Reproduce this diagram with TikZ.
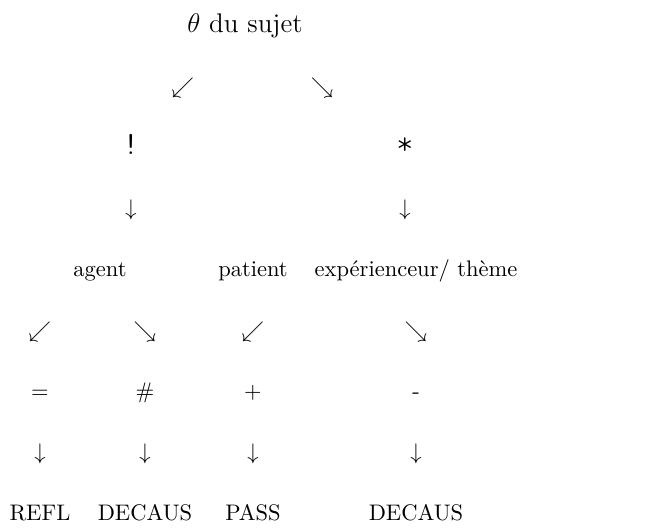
\documentclass[tikz,border=0pt]{standalone}
\usepackage{tikz}

\begin{document}
\begin{tikzpicture}[x=0.4444pt,y=-0.4444pt]
    % --- Dimensions (layout units, y grows downwards) ---
    \def\TotalW{664}      % Total width
    \def\TotalH{528}      % Total height
    \def\TopY{33}         % baseline of the first row
    \def\RowH{60.9}       % distance between two rows

    % --- Columns ---
    \def\ColRoot{245}     % theta du sujet
    \def\ColLeft{183}     % first left branch
    \def\ColRight{322}    % first right branch
    \def\ColBang{131}     % "!" column
    \def\ColStar{405}     % "*" column
    \def\ColAgent{100}
    \def\ColA{40}         % REFL
    \def\ColB{145}        % DECAUS (agent)
    \def\ColC{253}        % PASS
    \def\ColD{416}        % DECAUS (experienceur)

    % --- Derived row baselines ---
    \pgfmathsetmacro{\RowI}{\TopY}
    \pgfmathsetmacro{\RowII}{\TopY+\RowH}
    \pgfmathsetmacro{\RowIII}{\TopY+2*\RowH}
    \pgfmathsetmacro{\RowIV}{\TopY+3*\RowH}
    \pgfmathsetmacro{\RowV}{\TopY+4*\RowH}
    \pgfmathsetmacro{\RowVI}{\TopY+5*\RowH}
    \pgfmathsetmacro{\RowVII}{\TopY+6*\RowH}
    \pgfmathsetmacro{\RowVIII}{\TopY+7*\RowH}
    \pgfmathsetmacro{\RowIX}{\TopY+8*\RowH}

    % --- Styles ---
    \tikzset{
        cell/.style={anchor=base, inner sep=0pt},
        mark text/.style={cell, font=\Large\ttfamily\fontseries{l}\selectfont}
    }

    \useasboundingbox (0,0) rectangle (\TotalW,\TotalH);

    % =========================================================
    % 1) TOP: theta du sujet and its two branches
    % =========================================================
    \node[cell, font=\large] (root) at (\ColRoot,\RowI) {$\theta$ du sujet};

    \node[cell] (rootSW) at (\ColLeft,\RowII) {$\swarrow$};
    \node[cell] (rootSE) at (\ColRight,\RowII) {$\searrow$};

    \node[mark text] (bang) at (\ColBang,\RowIII) {!};
    \node[mark text] (star) at (\ColStar,\RowIII) {*};

    \node[cell] (bangDown) at (\ColBang,\RowIV) {$\downarrow$};
    \node[cell] (starDown) at (\ColStar,\RowIV) {$\downarrow$};

    % =========================================================
    % 2) ROLES
    % =========================================================
    \node[cell] (agent) at (\ColAgent,\RowV) {agent};
    \node[cell] (patient) at (\ColC,\RowV) {patient};
    \node[cell] (exper) at (\ColD,\RowV) {expérienceur/ thème};

    \node[cell] (agentSW) at (\ColA,\RowVI) {$\swarrow$};
    \node[cell] (agentSE) at (\ColB,\RowVI) {$\searrow$};
    \node[cell] (patientSW) at (\ColC,\RowVI) {$\swarrow$};
    \node[cell] (experSE) at (\ColD,\RowVI) {$\searrow$};

    % =========================================================
    % 3) SIGNS AND OPERATIONS
    % =========================================================
    \node[cell] (equal) at (\ColA,\RowVII) {$=$};
    \node[cell] (hash) at (\ColB,\RowVII) {\#};
    \node[cell] (plus) at (\ColC,\RowVII) {$+$};
    \node[cell] (minus) at (\ColD,\RowVII) {-};

    \node[cell] (equalDown) at (\ColA,\RowVIII) {$\downarrow$};
    \node[cell] (hashDown) at (\ColB,\RowVIII) {$\downarrow$};
    \node[cell] (plusDown) at (\ColC,\RowVIII) {$\downarrow$};
    \node[cell] (minusDown) at (\ColD,\RowVIII) {$\downarrow$};

    \node[cell] (refl) at (\ColA,\RowIX) {REFL};
    \node[cell] (decausA) at (\ColB,\RowIX) {DECAUS};
    \node[cell] (pass) at (\ColC,\RowIX) {PASS};
    \node[cell] (decausB) at (\ColD,\RowIX) {DECAUS};

\end{tikzpicture}
\end{document}
